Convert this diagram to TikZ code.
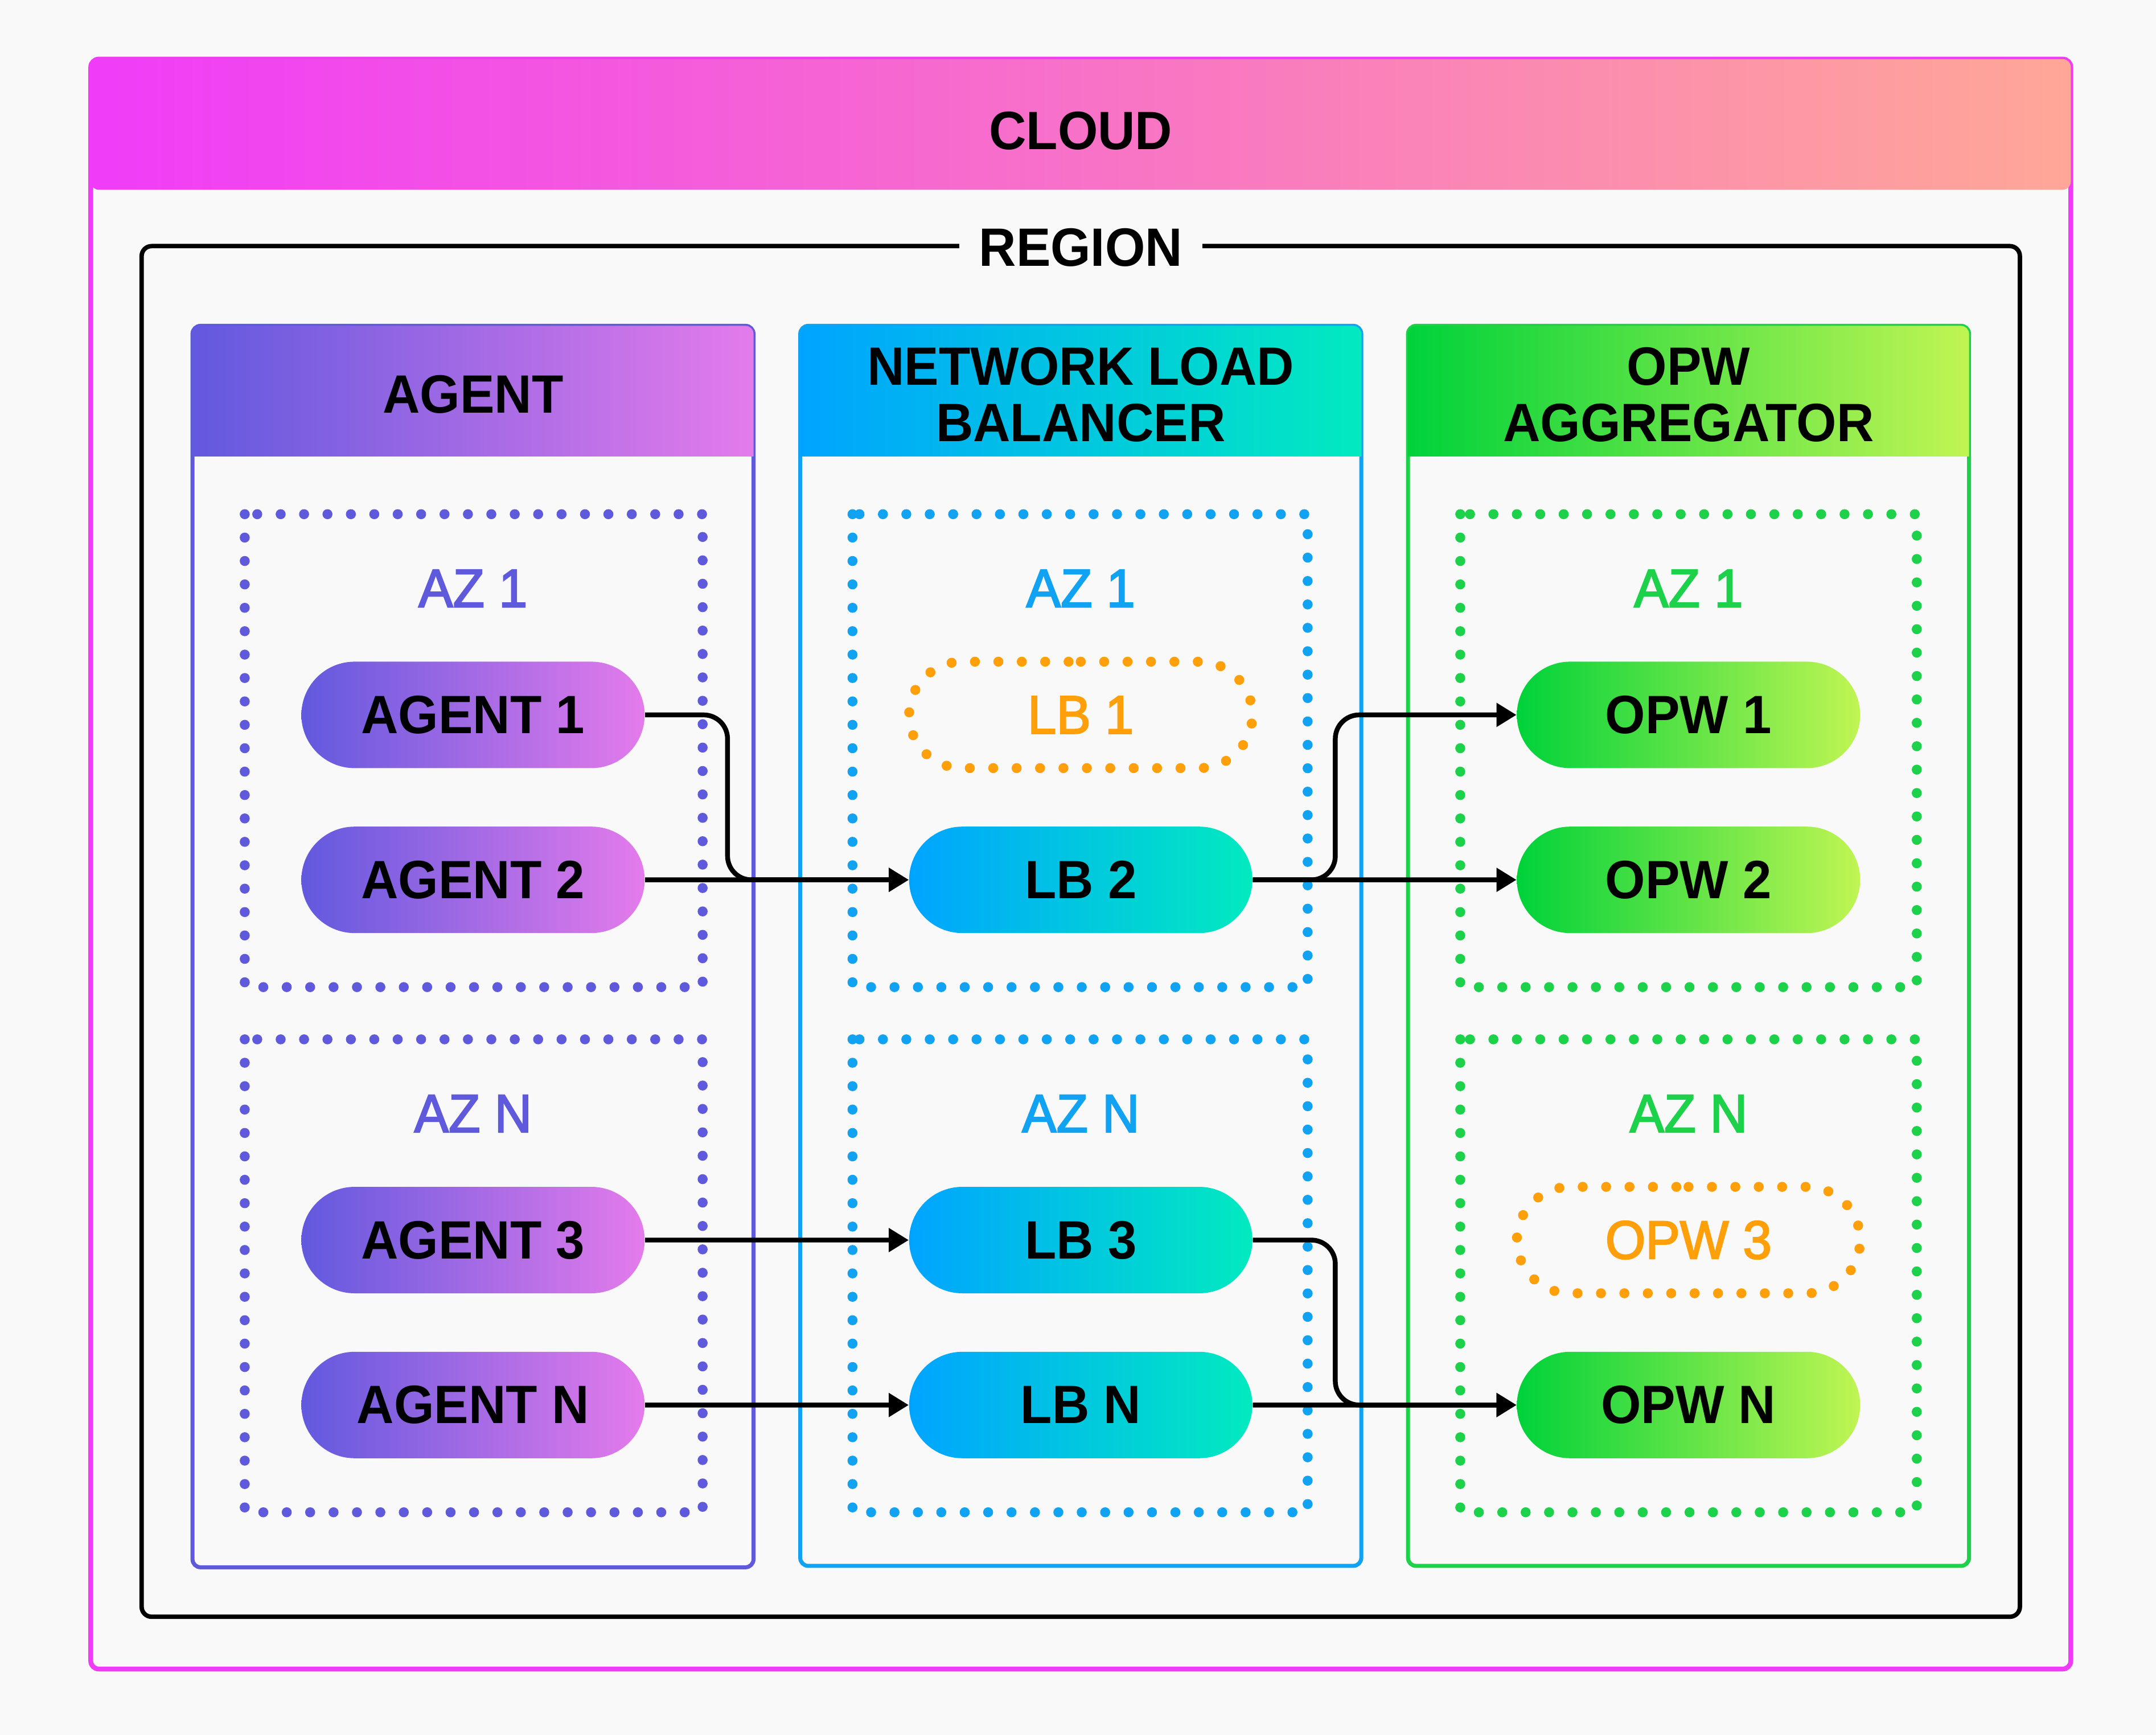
\documentclass[tikz,border=0pt]{standalone}
\usepackage{fontspec}
\setmainfont[FakeStretch=0.955]{Liberation Sans}
\newfontfamily\medfont[FakeStretch=0.955, FakeBold=2.5]{Liberation Sans}
\usetikzlibrary{positioning,shapes.misc,arrows.meta}

\definecolor{bg}{HTML}{F9F9F9}
\definecolor{cloudA}{HTML}{F03CF8}
\definecolor{cloudB}{HTML}{FFA797}
\definecolor{agentA}{HTML}{6259DE}
\definecolor{agentB}{HTML}{E47BEB}
\definecolor{nlbA}{HTML}{00A4FF}
\definecolor{nlbB}{HTML}{02EAC0}
\definecolor{opwA}{HTML}{00D23A}
\definecolor{opwB}{HTML}{C0F553}
\definecolor{agentline}{HTML}{5F5ADB}
\definecolor{nlbline}{HTML}{12A2F2}
\definecolor{opwline}{HTML}{1DD14A}
\definecolor{idle}{HTML}{FF9F0A}

\begin{document}
\begin{tikzpicture}[x=0.02415cm, y=-0.02415cm, node distance=2.898cm, on grid,
  >={Triangle[length=10pt,width=11.5pt]},
  every node/.style={font=\fontsize{27}{28}\selectfont\medfont},
  pill/.style={rounded rectangle, minimum width=6.03cm, minimum height=1.87cm,
    inner sep=0pt, font=\fontsize{27}{28}\selectfont\bfseries},
  agentpill/.style={pill, left color=agentA, right color=agentB},
  lbpill/.style={pill, left color=nlbA, right color=nlbB},
  opwpill/.style={pill, left color=opwA, right color=opwB},
  idlepill/.style={pill, draw=idle, text=idle, line width=5pt,
    dash pattern=on 0pt off 11.7pt, line cap=round,
    font=\fontsize{27}{28}\selectfont\medfont},
  zone/.style={line width=5pt, dash pattern=on 0pt off 11.7pt, line cap=round},
  column/.style={line width=2pt, rounded corners=4pt},
  head/.style={font=\fontsize{27}{28}\selectfont\bfseries, align=center},
  flow/.style={->, line width=2.4pt, rounded corners=0.42cm}]

\fill[bg] (0,0) rectangle (1568,1262);

% cloud and region frames
\draw[cloudA, line width=2.4pt, rounded corners=4pt] (66,43) rectangle (1506,1214);
\shade[left color=cloudA, right color=cloudB, rounded corners=4pt] (66,43) rectangle (1506,138);
\node[head] (cloud) at (786,95) {CLOUD};
\draw[line width=2.2pt, rounded corners=5pt] (103,179) rectangle (1469,1176);
\node[head, fill=bg, inner xsep=0.35cm] (region) at (786,180) {REGION};

% columns
\draw[agentline, column] (140,237) rectangle (548,1140);
\shade[left color=agentA, right color=agentB] (140,332) [rounded corners=4pt] -- (140,237) -- (548,237) [sharp corners] -- (548,332) -- cycle;
\draw[nlbline, column] (582,237) rectangle (990,1139);
\shade[left color=nlbA, right color=nlbB] (582,332) [rounded corners=4pt] -- (582,237) -- (990,237) [sharp corners] -- (990,332) -- cycle;
\draw[opwline, column] (1024,237) rectangle (1432,1139);
\shade[left color=opwA, right color=opwB] (1024,332) [rounded corners=4pt] -- (1024,237) -- (1432,237) [sharp corners] -- (1432,332) -- cycle;
\node[head] (agenthd) at (344,287) {AGENT};
\node[head] (nlbhd) at (786,287) {NETWORK LOAD\\BALANCER};
\node[head] (opwhd) at (1228,287) {OPW\\AGGREGATOR};

% availability zones
\draw[zone, agentline] (178,374) rectangle (511,718);
\draw[zone, agentline] (178,756) rectangle (511,1100);
\draw[zone, nlbline] (620,374) rectangle (951,718);
\draw[zone, nlbline] (620,756) rectangle (951,1100);
\draw[zone, opwline] (1062,374) rectangle (1394,718);
\draw[zone, opwline] (1062,756) rectangle (1394,1100);
\node[text=agentline] (agaz1) at (344,428) {AZ 1};
\node[text=agentline] (agazn) at (344,810) {AZ N};
\node[text=nlbline] (lbaz1) at (786,428) {AZ 1};
\node[text=nlbline] (lbazn) at (786,810) {AZ N};
\node[text=opwline] (opaz1) at (1228,428) {AZ 1};
\node[text=opwline] (opazn) at (1228,810) {AZ N};

% pills
\node[agentpill] (a1) at (344,520) {AGENT 1};
\node[agentpill] (a2) [below = of a1] {AGENT 2};
\node[agentpill] (a3) at (344,902) {AGENT 3};
\node[agentpill] (an) [below = of a3] {AGENT N};
\node[idlepill] (lb1) at (786,520) {LB 1};
\node[lbpill] (lb2) [below = of lb1] {LB 2};
\node[lbpill] (lb3) at (786,902) {LB 3};
\node[lbpill] (lbn) [below = of lb3] {LB N};
\node[opwpill] (o1) at (1228,520) {OPW 1};
\node[opwpill] (o2) [below = of o1] {OPW 2};
\node[idlepill] (o3) at (1228,902) {OPW 3};
\node[opwpill] (on) [below = of o3] {OPW N};

% traffic
\draw[flow] (a1.east) -- ++(60,0) |- (lb2.west);
\draw[flow] (lb2.east) -- ++(60,0) |- (o1.west);
\draw[flow] (lb3.east) -- ++(60,0) |- (on.west);
\path[flow]
(a2) edge (lb2)
(a3) edge (lb3)
(an) edge (lbn)
(lb2) edge (o2)
(lbn) edge (on);
\end{tikzpicture}
\end{document}
